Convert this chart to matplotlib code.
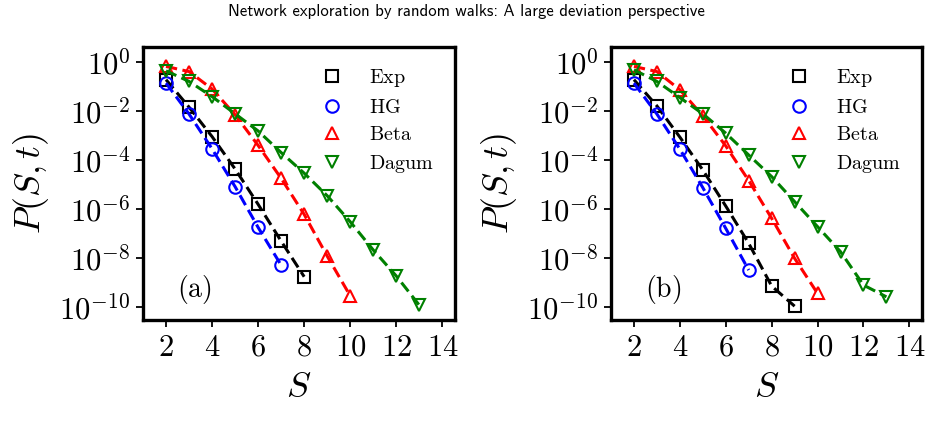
import numpy as np
import matplotlib
matplotlib.use("Agg")
import matplotlib.pyplot as plt

plt.rcParams['mathtext.fontset'] = 'cm'

# ──────────────────────────────────────────
# DATA (log10 of P(S,t))
# ──────────────────────────────────────────
series_names = ["Exp", "HG", "Beta", "Dagum"]

# panel (a)
s_exp_a = [2, 3, 4, 5, 6, 7, 8]
log_exp_a = [-0.73, -1.85, -3.05, -4.37, -5.81, -7.31, -8.76]
s_hg_a = [2, 3, 4, 5, 6, 7]
log_hg_a = [-0.87, -2.13, -3.55, -5.09, -6.75, -8.29]
s_beta_a = [2, 3, 4, 5, 6, 7, 8, 9, 10]
log_beta_a = [-0.19, -0.40, -1.11, -2.16, -3.41, -4.75, -6.22, -7.92, -9.54]
s_dagum_a = [2, 3, 4, 5, 6, 7, 8, 9, 10, 11, 12, 13]
log_dagum_a = [-0.37, -0.80, -1.42, -2.12, -2.82, -3.70, -4.54, -5.46, -6.52, -7.67, -8.73, -9.92]

# panel (b)
s_exp_b = [2, 3, 4, 5, 6, 7, 8, 9]
log_exp_b = [-0.73, -1.80, -3.07, -4.41, -5.88, -7.40, -9.14, -9.96]
s_hg_b = [2, 3, 4, 5, 6, 7]
log_hg_b = [-0.87, -2.13, -3.56, -5.13, -6.79, -8.49]
s_beta_b = [2, 3, 4, 5, 6, 7, 8, 9, 10]
log_beta_b = [-0.19, -0.40, -1.14, -2.20, -3.43, -4.84, -6.38, -8.01, -9.44]
s_dagum_b = [2, 3, 4, 5, 6, 7, 8, 9, 10, 11, 12, 13]
log_dagum_b = [-0.33, -0.80, -1.46, -2.12, -2.91, -3.80, -4.68, -5.70, -6.72, -7.74, -9.10, -9.58]

x_ticks = [2, 4, 6, 8, 10, 12, 14]
y_exps = [0, -2, -4, -6, -8, -10]

colors = ['k', 'b', 'r', 'g']
markers = ['s', 'o', '^', 'v']

# ──────────────────────────────────────────
# PLOT
# ──────────────────────────────────────────
def draw_panel(ax, data, tag):
    for (s, logp), name, c, m in zip(data, series_names, colors, markers):
        p = 10.0 ** np.array(logp)
        ax.plot(s, p, '--', color=c, lw=2.2, dashes=(3.7, 1.8))
        ax.plot(s, p, linestyle='none', marker=m, ms=9, mfc='none', mec=c,
                mew=1.5, label=r'$\mathrm{%s}$' % name)
    ax.set_yscale('log')
    ax.set_xlim(1, 14.55)
    ax.set_ylim(3e-11, 4)
    ax.set_xticks(x_ticks)
    ax.set_xticklabels([r'$%d$' % t for t in x_ticks])
    ax.set_yticks([10.0 ** e for e in y_exps])
    ax.set_yticklabels([r'$10^{%d}$' % e for e in y_exps])
    ax.minorticks_off()
    ax.tick_params(labelsize=22, length=5, width=1.3, pad=4)
    for sp in ax.spines.values():
        sp.set_linewidth(2.4)
    ax.set_xlabel(r'$S$', fontsize=26, labelpad=6)
    ax.set_ylabel(r'$P(S,t)$', fontsize=26, labelpad=6)
    ax.text(0.11, 0.085, r'$\mathrm{(%s)}$' % tag, transform=ax.transAxes,
            fontsize=20)
    ax.legend(loc='upper right', frameon=False, fontsize=14.5, handletextpad=1.1,
              borderaxespad=0.4, labelspacing=0.42, handlelength=1.5,
              bbox_to_anchor=(0.985, 0.985))


fig = plt.figure(figsize=(9.32, 4.24), dpi=100)
fig.text(0.5, 0.972, "Network exploration by random walks: A large deviation perspective",
         ha='center', va='center', fontsize=12, family='cmss10')

ax1 = fig.add_axes([143 / 932, 104 / 424, 312 / 932, 273 / 424])
ax2 = fig.add_axes([611 / 932, 104 / 424, 311 / 932, 273 / 424])

draw_panel(ax1, [(s_exp_a, log_exp_a), (s_hg_a, log_hg_a),
                 (s_beta_a, log_beta_a), (s_dagum_a, log_dagum_a)], 'a')
draw_panel(ax2, [(s_exp_b, log_exp_b), (s_hg_b, log_hg_b),
                 (s_beta_b, log_beta_b), (s_dagum_b, log_dagum_b)], 'b')

fig.savefig("out.png", dpi=100)
